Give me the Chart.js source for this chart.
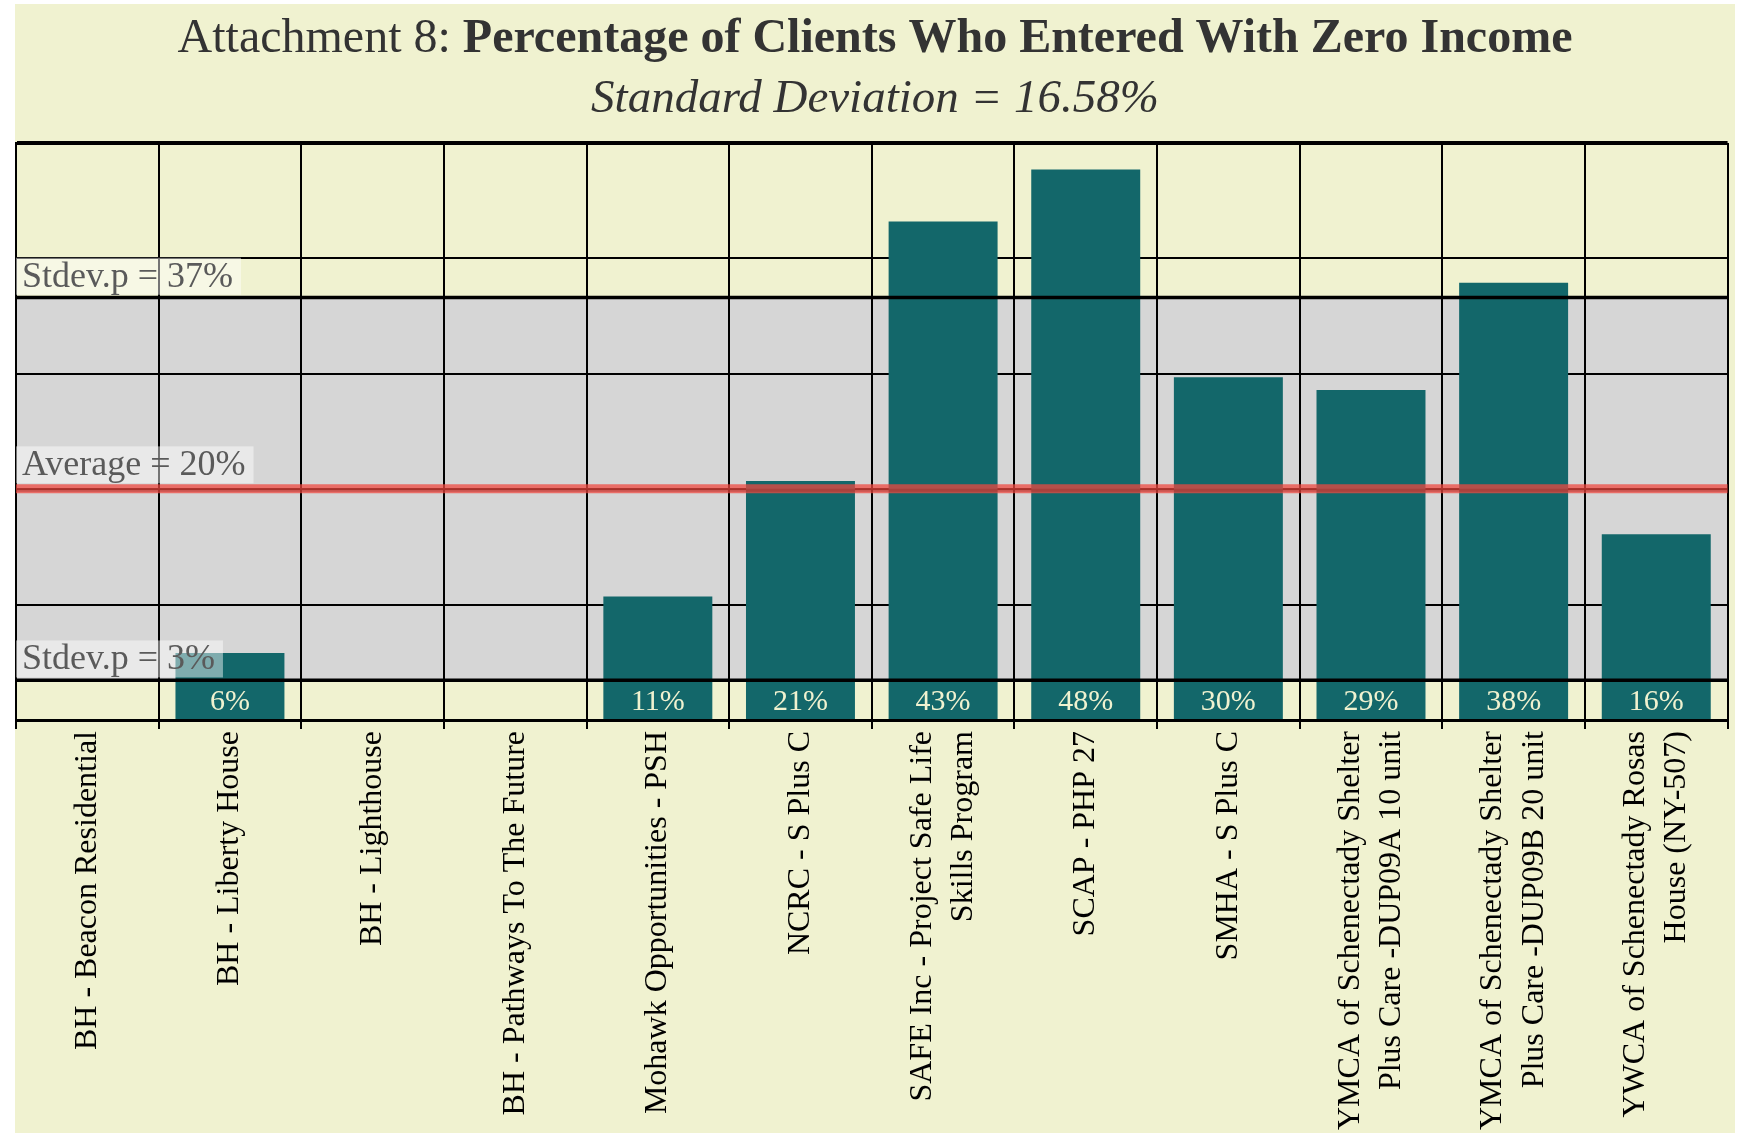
<!DOCTYPE html>
<html>
<head>
<meta charset="utf-8">
<script src="https://cdn.jsdelivr.net/npm/chart.js@4.4.1/dist/chart.umd.min.js"></script>
<style>
  html, body { margin: 0; padding: 0; background: #ffffff; }
  #wrap { position: relative; width: 1742px; height: 1142px; }
  canvas { display: block; }
</style>
</head>
<body>
<div id="wrap"><canvas id="c" width="1742" height="1142"></canvas></div>
<script>
// ---- data ----
const categories = [
  "BH - Beacon Residential",
  "BH - Liberty House",
  "BH - Lighthouse",
  "BH - Pathways To The Future",
  "Mohawk Opportunities - PSH",
  "NCRC - S Plus C",
  ["SAFE Inc - Project Safe Life", "Skills Program"],
  "SCAP - PHP 27",
  "SMHA - S Plus C",
  ["YMCA of Schenectady Shelter", "Plus Care -DUP09A 10 unit"],
  ["YMCA of Schenectady Shelter", "Plus Care -DUP09B 20 unit"],
  ["YWCA of Schenectady Rosas", "House (NY-507)"]
];
const zeroIncomePct = [0, 5.8, 0, 0, 10.7, 20.7, 43.2, 47.7, 29.7, 28.6, 37.9, 16.1];
const yTicks = [0, 10, 20, 30, 40, 50];
const AVERAGE = 20.03;
const STDEV = 16.58;
const titleNormal = "Attachment 8: ";
const titleBold = "Percentage of Clients Who Entered With Zero Income";
const subtitleText = "Standard Deviation = 16.58%";

const SERIF = '"Liberation Serif", "DejaVu Serif", serif';
const BG = '#F0F2D0';
const BAR = '#13676A';

const overlayPlugin = {
  id: 'overlay',
  beforeDraw(chart) {
    const ctx = chart.ctx;
    const area = chart.chartArea;
    const y = chart.scales.y;
    ctx.save();
    // page background panel
    ctx.fillStyle = BG;
    ctx.fillRect(15, 4, 1720, 1129);
    // title (mixed weight)
    ctx.fillStyle = '#333333';
    ctx.textBaseline = 'alphabetic';
    ctx.font = '48px ' + SERIF;
    const w1 = ctx.measureText(titleNormal).width;
    ctx.font = 'bold 48px ' + SERIF;
    const w2 = ctx.measureText(titleBold).width;
    const cx = 875;
    let x0 = cx - (w1 + w2) / 2;
    ctx.font = '48px ' + SERIF;
    ctx.textAlign = 'left';
    ctx.fillText(titleNormal, x0, 52);
    ctx.font = 'bold 48px ' + SERIF;
    ctx.fillText(titleBold, x0 + w1, 52);
    // subtitle
    ctx.font = 'italic 47px ' + SERIF;
    ctx.textAlign = 'center';
    ctx.fillText(subtitleText, cx, 112);
    // band between mean - sd and mean + sd
    const yHi = y.getPixelForValue(AVERAGE + STDEV);
    const yLo = y.getPixelForValue(AVERAGE - STDEV);
    ctx.fillStyle = '#D6D6D6';
    ctx.fillRect(area.left, yHi, area.right - area.left, yLo - yHi);
    ctx.restore();

    // center multi-line rotated tick labels on their tick
    const xs = chart.scales.x;
    const items = xs.getLabelItems();
    const lh = xs.options.ticks.font.lineHeight * xs.options.ticks.font.size;
    items.forEach(it => {
      if (!it._centered && Array.isArray(it.label) && it.label.length > 1) {
        it.options.translation[0] -= (it.label.length - 1) * lh / 2;
        it._centered = true;
      }
    });
  },
  afterDatasetsDraw(chart) {
    const ctx = chart.ctx;
    const area = chart.chartArea;
    const y = chart.scales.y;
    ctx.save();
    const yHi = y.getPixelForValue(AVERAGE + STDEV);
    const yLo = y.getPixelForValue(AVERAGE - STDEV);
    const yAvg = y.getPixelForValue(AVERAGE);
    // sd lines
    ctx.strokeStyle = '#000000';
    ctx.lineWidth = 3.5;
    [yHi, yLo].forEach(py => {
      ctx.beginPath();
      ctx.moveTo(area.left, py);
      ctx.lineTo(area.right, py);
      ctx.stroke();
    });
    // average line
    ctx.strokeStyle = 'rgba(239,71,63,0.74)';
    ctx.lineWidth = 9;
    ctx.beginPath();
    ctx.moveTo(area.left, yAvg);
    ctx.lineTo(area.right, yAvg);
    ctx.stroke();
    ctx.strokeStyle = 'rgba(150,40,35,0.35)';
    ctx.lineWidth = 3;
    ctx.beginPath();
    ctx.moveTo(area.left, yAvg + 1.5);
    ctx.lineTo(area.right, yAvg + 1.5);
    ctx.stroke();

    // line labels
    const labels = [
      ['Stdev.p = ' + Math.round(AVERAGE + STDEV) + '%', yHi - 1.75],
      ['Average = ' + Math.round(AVERAGE) + '%', yAvg - 4.5],
      ['Stdev.p = ' + Math.round(AVERAGE - STDEV) + '%', yLo - 1.75]
    ];
    ctx.font = '36px ' + SERIF;
    ctx.textAlign = 'left';
    ctx.textBaseline = 'middle';
    labels.forEach(([txt, bottom]) => {
      const tw = ctx.measureText(txt).width;
      const h = 37;
      const top = bottom - 1 - h;
      ctx.fillStyle = 'rgba(255,255,255,0.46)';
      ctx.fillRect(area.left, top, tw + 14, h);
      ctx.fillStyle = '#5A5A5A';
      ctx.fillText(txt, area.left + 6, top + h / 2 + 1);
    });

    // value labels at bottom of bars
    const meta = chart.getDatasetMeta(0);
    ctx.font = '30px ' + SERIF;
    ctx.textAlign = 'center';
    ctx.textBaseline = 'middle';
    ctx.fillStyle = BG;
    meta.data.forEach((bar, i) => {
      const v = zeroIncomePct[i];
      if (v > 0) ctx.fillText(Math.round(v) + '%', bar.x, y.getPixelForValue(0) - 18);
    });
    ctx.restore();
  }
};

new Chart(document.getElementById('c'), {
  type: 'bar',
  data: {
    labels: categories,
    datasets: [{
      data: zeroIncomePct,
      backgroundColor: BAR,
      borderWidth: 0,
      barPercentage: 0.764,
      categoryPercentage: 1.0
    }]
  },
  options: {
    responsive: false,
    animation: false,
    devicePixelRatio: 1,
    layout: { padding: { left: 16, right: 13, top: 143, bottom: 0 }, autoPadding: false },
    plugins: {
      legend: { display: false },
      title: { display: false },
      tooltip: { enabled: false }
    },
    scales: {
      x: {
        grid: {
          offset: true,
          color: '#000000',
          lineWidth: 2,
          tickLength: 9,
          tickColor: '#000000',
          tickWidth: 2
        },
        border: { color: '#000000', width: 3 },
        ticks: {
          minRotation: 90,
          maxRotation: 90,
          autoSkip: false,
          padding: 2,
          color: '#000000',
          font: { family: SERIF, size: 32, lineHeight: 1.3 }
        },
        afterFit(scale) { scale.height = 1142 - 720; }
      },
      y: {
        min: 0,
        max: 50,
        afterBuildTicks(scale) { scale.ticks = yTicks.map(v => ({ value: v })); },
        grid: {
          color: '#000000',
          lineWidth: (c) => (c.tick && c.tick.value === 50 ? 4 : 2),
          drawTicks: false
        },
        border: { color: '#000000', width: 2 },
        ticks: { display: false },
        afterFit(scale) { scale.width = 0; }
      }
    }
  },
  plugins: [overlayPlugin]
});
</script>
</body>
</html>
